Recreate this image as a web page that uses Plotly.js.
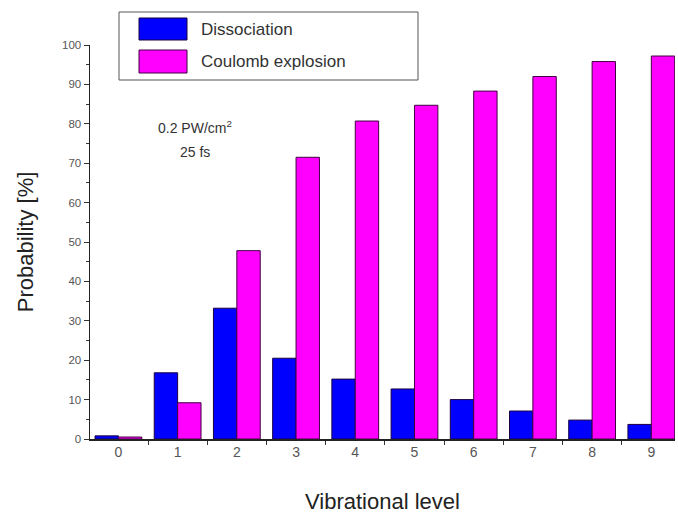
<!DOCTYPE html>
<html>
<head>
<meta charset="utf-8">
<script src="https://cdn.plot.ly/plotly-3.0.1.min.js"></script>
<style>html,body{margin:0;padding:0;background:#fff;}#chart{width:678px;height:514px;}</style>
</head>
<body>
<div id="chart"></div>
<script>
const levels = ['0','1','2','3','4','5','6','7','8','9'];
const dissociation = [0.8, 16.8, 33.2, 20.5, 15.2, 12.7, 10.0, 7.1, 4.8, 3.7];
const coulomb = [0.5, 9.2, 47.8, 71.5, 80.7, 84.7, 88.3, 92.0, 95.8, 97.2];
const seriesNames = ['Dissociation', 'Coulomb explosion'];
const seriesColors = ['#0000ff', '#ff00ff'];

const traces = [
  {type:'bar', x: levels, y: dissociation, name: seriesNames[0],
   marker:{color: seriesColors[0], line:{color:'#1a0040', width:1}}},
  {type:'bar', x: levels, y: coulomb, name: seriesNames[1],
   marker:{color: seriesColors[1], line:{color:'#400040', width:1}}}
];

const font = 'Liberation Sans, Arial, sans-serif';
const layout = {
  width: 678, height: 514,
  margin: {l: 90, r: 3, t: 45, b: 75},
  paper_bgcolor: '#fff', plot_bgcolor: '#fff',
  showlegend: false,
  barmode: 'group', bargap: 0.21, bargroupgap: 0,
  font: {family: font, color: '#222'},
  xaxis: {
    type: 'category', range: [-0.48, 9.40],
    showline: true, linecolor: '#222', linewidth: 1.5,
    ticks: 'outside', tickson: 'boundaries', ticklen: 4, tickcolor: '#333',
    tickfont: {size: 14, color: '#555'},
    showgrid: false, zeroline: false,
    title: {text: 'Vibrational level', font: {size: 22, color: '#222'}, standoff: 36}
  },
  yaxis: {
    range: [0, 100], dtick: 10, tick0: 0,
    showline: true, linecolor: '#222', linewidth: 1.5,
    ticks: 'outside', ticklen: 5, tickcolor: '#333',
    minor: {dtick: 5, ticks: 'outside', ticklen: 3, tickcolor: '#333'},
    tickfont: {size: 11.5, color: '#555'},
    showgrid: false, zeroline: false,
    title: {text: 'Probability [%]', font: {size: 22, color: '#222'}, standoff: 22}
  },
  shapes: [
    {type:'rect', xref:'paper', yref:'paper', x0:(119-90)/585, x1:(418-90)/585, y0:(439-80)/394, y1:(439-12)/394,
     line:{color:'#555', width:1}, fillcolor:'#fff', layer:'above'},
    {type:'rect', xref:'paper', yref:'paper', x0:(139-90)/585, x1:(187-90)/585, y0:(439-40)/394, y1:(439-18)/394,
     line:{color:'#1a0040', width:1}, fillcolor: seriesColors[0], layer:'above'},
    {type:'rect', xref:'paper', yref:'paper', x0:(139-90)/585, x1:(187-90)/585, y0:(439-73)/394, y1:(439-50)/394,
     line:{color:'#400040', width:1}, fillcolor: seriesColors[1], layer:'above'}
  ],
  annotations: [
    {xref:'paper', yref:'paper', x:(199-90)/585, y:(439-29)/394, xanchor:'left', yanchor:'middle',
     text: seriesNames[0], showarrow:false, font:{size:17, color:'#333'}},
    {xref:'paper', yref:'paper', x:(199-90)/585, y:(439-62)/394, xanchor:'left', yanchor:'middle',
     text: seriesNames[1], showarrow:false, font:{size:17, color:'#333'}},
    {xref:'paper', yref:'paper', x:(195-90)/585, y:(439-127)/394, xanchor:'center', yanchor:'middle',
     text: '0.2 PW/cm<sup>2</sup>', showarrow:false, font:{size:14, color:'#333'}},
    {xref:'paper', yref:'paper', x:(195-90)/585, y:(439-152)/394, xanchor:'center', yanchor:'middle',
     text: '25 fs', showarrow:false, font:{size:14, color:'#333'}}
  ]
};

Plotly.newPlot('chart', traces, layout, {displayModeBar:false, staticPlot:true});
</script>
</body>
</html>
